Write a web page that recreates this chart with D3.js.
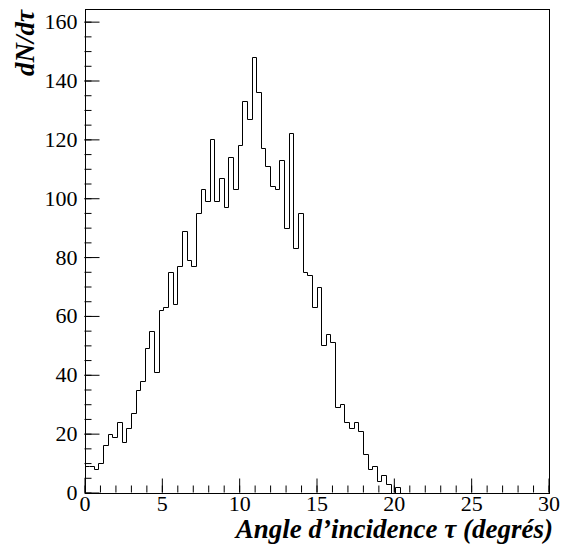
<!DOCTYPE html>
<html>
<head>
<meta charset="utf-8">
<script src="https://cdn.jsdelivr.net/npm/d3@7"></script>
</head>
<body style="margin:0;background:#fff">
<div id="chart"></div>
<script>
// histogramme : 100 bins de 0 a 30 degres (largeur 0.3)
var binCount = 100;
var xRange = [0, 30];
var counts = [9, 9, 8, 10, 16, 20, 19, 24, 17, 22,
              27, 35, 38, 49, 55, 41, 62, 63, 75, 64,
              77, 89, 79, 77, 95, 103, 99, 120, 99, 107,
              97, 114, 103, 118, 133, 127, 148, 136, 117, 111,
              104, 103, 113, 90, 122, 83, 95, 75, 74, 63,
              70, 50, 54, 51, 29, 30, 24, 22, 24, 21,
              13, 8, 9, 4, 6, 3, 0, 2];
var xTicks = [0, 5, 10, 15, 20, 25, 30];
var yTicks = [0, 20, 40, 60, 80, 100, 120, 140, 160];
var xTitle = 'Angle d\u2019incidence \u03c4 (degr\u00e9s)';
var yTitle = 'dN/d\u03c4';

var width = 566, height = 546,
    margin = {left: 84.5, top: 9, right: 17.5, bottom: 53.5},
    yMax = 164.3,
    font = '"Liberation Serif"';

var scale_x = d3.scaleLinear().domain(xRange).range([margin.left, width - margin.right]);
var scale_y = d3.scaleLinear().domain([0, yMax]).range([height - margin.bottom, margin.top]);

var svg = d3.select('#chart').append('svg')
    .attr('width', width)
    .attr('height', height)
    .style('display', 'block');

// contour du histogramme
var binWidth = (xRange[1] - xRange[0]) / binCount;
var pts = [[xRange[0], 0]];
for (var i = 0; i < binCount; i++) {
    var v = i < counts.length ? counts[i] : 0;
    pts.push([xRange[0] + i * binWidth, v]);
    pts.push([xRange[0] + (i + 1) * binWidth, v]);
}
pts.push([xRange[1], 0]);

var line = d3.line()
    .x(function (d) { return Math.round(scale_x(d[0])) + 0.5; })
    .y(function (d) { return Math.round(scale_y(d[1])) + 0.5; });

svg.append('path')
    .attr('d', line(pts))
    .attr('fill', 'none')
    .attr('stroke', '#000')
    .attr('stroke-width', 1);

// axes (graduations vers l'interieur)
var y0 = height - margin.bottom;
function styleAxis(g) {
    g.attr('font-family', null).attr('font-size', null);
    g.select('.domain').remove();
    g.selectAll('line').attr('stroke', '#000');
    g.selectAll('text')
        .style('font-family', font)
        .style('font-size', '22px')
        .attr('fill', '#000');
}

var gx = svg.append('g')
    .attr('transform', 'translate(0,' + y0 + ')')
    .call(d3.axisBottom(scale_x).tickValues(xTicks).tickSizeInner(-14).tickSizeOuter(0).tickPadding(4))
    .call(styleAxis);
gx.selectAll('text').attr('y', 0).attr('dy', 18);

svg.append('g')
    .attr('transform', 'translate(0,' + y0 + ')')
    .call(d3.axisBottom(scale_x).tickValues(d3.range(0, 31, 1)).tickSizeInner(-7).tickSizeOuter(0).tickFormat(''))
    .call(styleAxis);

svg.append('g')
    .attr('transform', 'translate(' + margin.left + ',0)')
    .call(d3.axisLeft(scale_y).tickValues(yTicks).tickSizeInner(-15).tickSizeOuter(0).tickPadding(7))
    .call(styleAxis);

svg.append('g')
    .attr('transform', 'translate(' + margin.left + ',0)')
    .call(d3.axisLeft(scale_y).tickValues(d3.range(0, 161, 5)).tickSizeInner(-7).tickSizeOuter(0).tickFormat(''))
    .call(styleAxis);

// cadre
svg.append('rect')
    .attr('x', Math.round(scale_x(xRange[0])) + 0.5)
    .attr('y', Math.round(scale_y(yMax)) + 0.5)
    .attr('width', Math.round(scale_x(xRange[1])) - Math.round(scale_x(xRange[0])))
    .attr('height', Math.round(scale_y(0)) - Math.round(scale_y(yMax)))
    .attr('fill', 'none')
    .attr('stroke', '#000');

// titres
svg.append('text')
    .attr('x', 553)
    .attr('y', 538)
    .attr('text-anchor', 'end')
    .style('font-family', font)
    .style('font-weight', 'bold')
    .style('font-style', 'italic')
    .style('font-size', '27px')
    .text(xTitle);

svg.append('text')
    .attr('transform', 'translate(34,10) rotate(-90)')
    .attr('text-anchor', 'end')
    .style('font-family', font)
    .style('font-weight', 'bold')
    .style('font-style', 'italic')
    .style('font-size', '27px')
    .text(yTitle);
</script>
</body>
</html>
